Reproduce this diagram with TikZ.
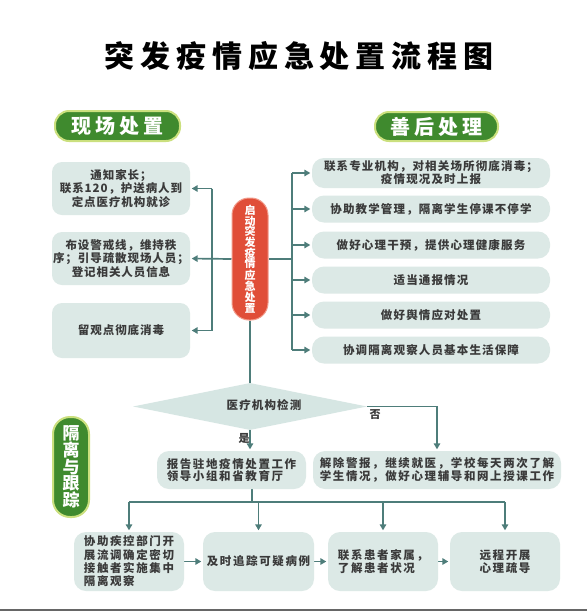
\documentclass[tikz,border=0pt]{standalone}
\usepackage{fontspec}
\setmainfont{Noto Sans CJK SC}
\usetikzlibrary{shapes.geometric,arrows.meta,backgrounds}
\definecolor{conn}{HTML}{4E7D7A}
\definecolor{boxfill}{HTML}{DCE9E6}
\definecolor{txt}{HTML}{3A3A3A}
\definecolor{pillgreen}{HTML}{3F8A2E}
\definecolor{pillrim}{HTML}{CBE07E}
\definecolor{pillred}{HTML}{E04E38}
\definecolor{pillredrim}{HTML}{F29C8C}
\definecolor{diamfill}{HTML}{D6E6E3}
\newcommand\titlefont{\fontsize{30}{30}\selectfont\bfseries\addfontfeatures{LetterSpace=20}}
\newcommand\pillfont{\fontsize{20}{20}\selectfont\bfseries\addfontfeatures{LetterSpace=20}}
\newcommand\lboxfont{\fontsize{11.5}{13.5}\selectfont\bfseries\addfontfeatures{LetterSpace=8}}
\newcommand\rboxfont{\fontsize{11.5}{13}\selectfont\bfseries\addfontfeatures{LetterSpace=10}}
\newcommand\wboxfont{\fontsize{11.5}{12.5}\selectfont\bfseries\addfontfeatures{LetterSpace=14}}
\newcommand\bboxfont{\fontsize{11.5}{13.3}\selectfont\bfseries\addfontfeatures{LetterSpace=14}}
\newcommand\redfont{\fontsize{11}{10.6}\selectfont\bfseries}
\newcommand\vgfont{\fontsize{17}{16.6}\selectfont\bfseries}
\tikzset{
  box/.style={fill=boxfill, rounded corners=10pt, inner sep=0pt, text=txt, align=center},
  gpill/.style={fill=pillgreen, draw=pillrim, line width=2pt, rounded corners=14pt, text=white, inner sep=0pt, font=\pillfont},
  rpill/.style={fill=pillred, draw=pillredrim, line width=1pt, rounded corners=17pt, text=white, inner sep=0pt, align=center, font=\redfont},
  vgpill/.style={fill=pillgreen, draw=pillrim, line width=2pt, rounded corners=17pt, text=white, inner sep=0pt, align=center, font=\vgfont},
  line/.style={draw=conn, line width=1.7pt},
  arr/.style={line, -{Triangle[length=6pt,width=6.5pt]}, shorten >=1.5pt},
  lbl/.style={text=txt, font=\fontsize{11}{11}\selectfont\bfseries, inner sep=0pt}
}
\begin{document}
\begin{tikzpicture}[x=1pt,y=-1pt]
\useasboundingbox (0,0) rectangle (587,611);

\node[font=\titlefont, text=black, inner sep=0pt] (title) at (299,56) {突发疫情应急处置流程图};

\node[gpill, minimum width=125pt, minimum height=30pt] (pA) at (117.5,126) {现场处置};
\node[gpill, minimum width=123pt, minimum height=29pt] (pB) at (436.5,126.5) {善后处理};

% left boxes
\node[box, font=\lboxfont, minimum width=138pt, minimum height=53pt] (L1) at (121,188.5) {通知家长；\\联系120，护送病人到\\定点医疗机构就诊};
\node[box, font=\lboxfont, minimum width=138pt, minimum height=53pt] (L2) at (121,258.5) {布设警戒线，维持秩\\序；引导疏散现场人员；\\登记相关人员信息};
\node[box, font=\lboxfont, minimum width=138pt, minimum height=55pt] (L3) at (121,330.5) {留观点彻底消毒};

% red pill
\node[rpill, minimum width=36pt, minimum height=122pt] (red) at (250,259) {启\\动\\突\\发\\疫\\情\\应\\急\\处\\置};

% right boxes
\node[box, font=\rboxfont, rounded corners=12pt, minimum width=238pt, minimum height=30pt] (R1) at (431,173) {联系专业机构，对相关场所彻底消毒；\\疫情现况及时上报};
\node[box, font=\rboxfont, rounded corners=12pt, minimum width=238pt, minimum height=27pt] (R2) at (431,209) {协助教学管理，隔离学生停课不停学};
\node[box, font=\rboxfont, rounded corners=12pt, minimum width=238pt, minimum height=27pt] (R3) at (431,245) {做好心理干预，提供心理健康服务};
\node[box, font=\rboxfont, rounded corners=12pt, minimum width=238pt, minimum height=27pt] (R4) at (431,280) {适当通报情况};
\node[box, font=\rboxfont, rounded corners=12pt, minimum width=238pt, minimum height=27pt] (R5) at (431,315) {做好舆情应对处置};
\node[box, font=\rboxfont, rounded corners=12pt, minimum width=238pt, minimum height=27pt] (R6) at (431,350) {协调隔离观察人员基本生活保障};

% diamond
\node[diamond, fill=diamfill, minimum width=234pt, minimum height=47pt, inner sep=0pt] (dia) at (250,406.5) {};
\node[font=\rboxfont, text=txt, inner sep=0pt] (dtext) at (264,405) {医疗机构检测};

% yes / no boxes
\node[box, font=\wboxfont, align=left, rounded corners=12pt, minimum width=149pt, minimum height=38pt] (yes) at (231.5,470) {报告驻地疫情处置工作\\领导小组和省教育厅};
\node[box, font=\wboxfont, align=left, rounded corners=12pt, minimum width=248pt, minimum height=38pt] (no) at (437,470) {解除警报，继续就医，学校每天两次了解\\学生情况，做好心理辅导和网上授课工作};
\node[lbl] (shi) at (244,438) {是};
\node[lbl] (fou) at (375,415) {否};

% vertical green pill
\node[vgpill, minimum width=36pt, minimum height=100pt] (pC) at (71,467) {隔\\离\\与\\跟\\踪};

% bottom boxes
\node[box, font=\bboxfont, align=left, rounded corners=12pt, minimum width=110pt, minimum height=59pt] (B1) at (129,561.5) {协助疾控部门开\\展流调确定密切\\接触者实施集中\\隔离观察};
\node[box, font=\bboxfont, rounded corners=12pt, minimum width=111pt, minimum height=59pt] (B2) at (258.5,561.5) {及时追踪可疑病例};
\node[box, font=\bboxfont, align=left, rounded corners=12pt, minimum width=110pt, minimum height=59pt] (B3) at (383,561.5) {联系患者家属，\\了解患者状况};
\node[box, font=\bboxfont, rounded corners=12pt, minimum width=110pt, minimum height=59pt] (B4) at (505,561.5) {远程开展\\心理疏导};

\begin{scope}[on background layer]
\fill[white] (0,0) rectangle (587,611);
\draw[gray!80!black, line width=2pt] (0,610) -- (587,610);
% left connectors
\coordinate (lbus) at (212,259);
\draw[line] (lbus |- L1.east) -- (lbus |- L3.east);
\draw[arr] (red.west) -- (L2.east);
\draw[arr] (lbus |- L1.east) -- (L1.east);
\draw[arr] (lbus |- L3.east) -- (L3.east);
% right connectors
\coordinate (rbus) at (292,259);
\draw[line] (rbus |- R1.west) -- (rbus |- R6.west);
\draw[line] (red.east) -- (rbus);
\foreach \r in {R1,R2,R3,R4,R5,R6} \draw[arr] (rbus |- \r.west) -- (\r.west);
% decision
\draw[line] (red.south) -- (dia.north);
\draw[arr] (dia.south) -- (dia.south |- yes.north);
\draw[arr] (dia.east) -- (dia.east -| no.north) -- (no.north);
% bottom
\coordinate (bus) at (252,502);
\draw[line] (yes.south -| bus) -- (bus);
\draw[line] (B1.north |- bus) -- (B4.north |- bus);
\foreach \b in {B1,B2,B3,B4} \draw[arr] (\b.north |- bus) -- (\b.north);
\draw[arr] (B1.east) -- (B2.west);
\draw[arr] (B2.east) -- (B3.west);
\draw[arr] (B3.east) -- (B4.west);
\end{scope}
\end{tikzpicture}
\end{document}
